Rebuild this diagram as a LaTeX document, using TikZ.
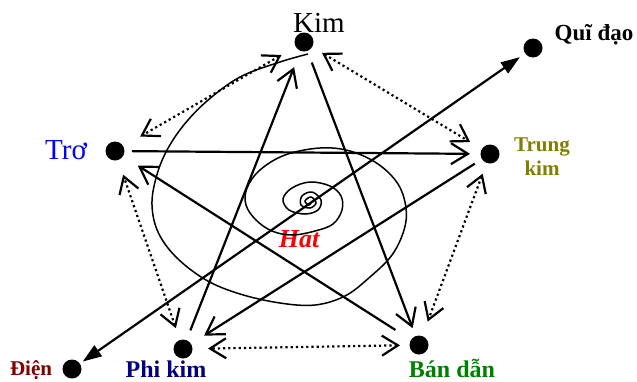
\documentclass[tikz,border=0pt]{standalone}
\usepackage{fontspec}
\setmainfont{Liberation Serif}
\usetikzlibrary{arrows.meta}
\definecolor{olivec}{RGB}{128,128,0}
\definecolor{navyc}{RGB}{0,0,128}
\definecolor{greenc}{RGB}{0,128,0}
\definecolor{darkredc}{RGB}{128,0,0}
\begin{document}
\begin{tikzpicture}[x=1pt,y=-1pt,
  dot/.style={circle,fill=black,inner sep=0pt,minimum size=19pt},
  lbl/.style={anchor=base,inner sep=0pt},
  solidarr/.style={line width=2.2pt,-{Straight Barb[length=17pt,width=21pt]}},
  dotarr/.style={line width=2.2pt,dash pattern=on 2.2pt off 3pt,
    {Straight Barb[length=16pt,width=20pt]}-{Straight Barb[length=16pt,width=20pt]}},
  bigarr/.style={line width=2.2pt,{Triangle[length=19pt,width=13pt]}-{Triangle[length=19pt,width=13pt]}},
  spiral/.style={line width=1.5pt}]
\useasboundingbox (0,0) rectangle (637,381);
% dots
\node[dot] (kim) at (304,42) {};
\node[dot] (tro) at (115,151) {};
\node[dot] (qui) at (533,48) {};
\node[dot] (trung) at (490,154) {};
\node[dot] (phi) at (183,349) {};
\node[dot] (ban) at (419,345) {};
\node[dot] (dien) at (72,369) {};
% labels
\node[lbl,font=\fontsize{29}{30}\selectfont] (kimlbl) at (319,32) {Kim};
\node[lbl,text=blue,font=\fontsize{29}{30}\selectfont] (trolbl) at (66,159) {Trơ};
\node[lbl,font=\fontsize{23}{24}\selectfont\bfseries] (quilbl) at (594,40) {Quĩ đạo};
\node[lbl,text=olivec,align=center,font=\fontsize{21}{24}\selectfont\bfseries] (trunglbl) at (542,175) {Trung\\kim};
\node[lbl,text=navyc,font=\fontsize{24}{26}\selectfont\bfseries] (philbl) at (166,377) {Phi kim};
\node[lbl,text=greenc,font=\fontsize{24}{26}\selectfont\bfseries] (banlbl) at (452,377) {Bán dẫn};
\node[lbl,text=darkredc,font=\fontsize{21}{22}\selectfont\bfseries] (dienlbl) at (31,375) {Điện};
\node[lbl,text=red,font=\fontsize{26}{28}\selectfont\bfseries\itshape] (hat) at (299,247) {Hat};
% spiral
\draw[spiral] plot[smooth,tension=0.6] coordinates {
(308,54) (280,62) (240,77) (207,101) (183,126) (166,152) (156,178) (152,205)
(158,232) (176,257) (206,280) (240,294) (280,303) (315,305) (345,296) (370,277)
(392,255) (404,230) (406,208) (398,184) (378,164) (350,151) (320,148) (285,155)
(260,170) (247,188) (246,205) (256,220) (272,231) (292,235) (315,231) (333,224)
(342,210) (341,196) (330,186) (310,182) (292,188) (283,199) (289,210) (305,214)
(318,210) (321,200) (312,192) (302,196) (301,205) (310,208) (316,203) (311,197)
(305,201) (309,205) (312,201)};
% solid arrows
\draw[solidarr,shorten <=17pt,shorten >=20pt] (tro.center) -- (trung.center);
\draw[solidarr,shorten <=20pt,shorten >=27pt] (phi.center) -- (kim.center);
\draw[solidarr,shorten <=22pt,shorten >=18pt] (kim.center) -- (ban.center);
\draw[solidarr,shorten <=18pt,shorten >=25pt] (trung.center) -- (phi.center);
\draw[solidarr,shorten <=28pt,shorten >=27pt] (ban.center) -- (tro.center);
% dotted arrows
\draw[dotarr,shorten <=26pt,shorten >=29pt] (kim.center) -- (tro.center);
\draw[dotarr,shorten <=21pt,shorten >=23pt] (kim.center) -- (trung.center);
\draw[dotarr,shorten <=21pt,shorten >=25pt] (trung.center) -- (ban.center);
\draw[dotarr,shorten <=19pt,shorten >=25pt] (ban.center) -- (phi.center);
\draw[dotarr,shorten <=22pt,shorten >=25pt] (phi.center) -- (tro.center);
% long arrow
\draw[bigarr,shorten <=13pt,shorten >=16pt] (dien.center) -- (qui.center);
\end{tikzpicture}
\end{document}
